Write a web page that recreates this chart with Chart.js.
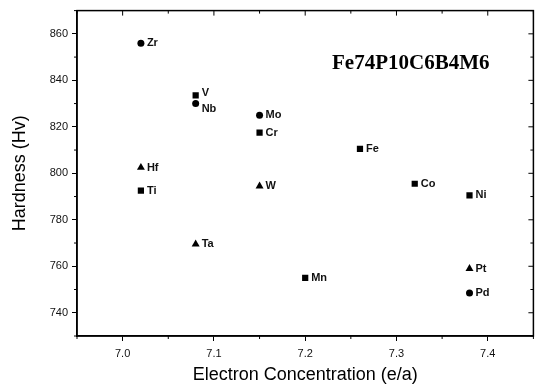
<!DOCTYPE html>
<html>
<head>
<meta charset="utf-8">
<script src="https://cdn.jsdelivr.net/npm/chart.js@4/dist/chart.umd.min.js"></script>
<style>
  html, body { margin: 0; padding: 0; background: #fff; }
  #wrap { width: 538px; height: 392px; }
</style>
</head>
<body>
<div id="wrap"><canvas id="hardChart" width="538" height="392"></canvas></div>
<script>
// ---- Données ----
const circleNames = ["Zr", "Nb", "Mo", "Pd"];
const circleX     = [7.02, 7.08, 7.15, 7.38];
const circleY     = [856, 830, 825, 748.5];

const squareNames = ["V", "Cr", "Ti", "Fe", "Co", "Ni", "Mn"];
const squareX     = [7.08, 7.15, 7.02, 7.26, 7.32, 7.38, 7.20];
const squareY     = [833.5, 817.5, 792.5, 810.5, 795.5, 790.5, 755];

const triangleNames = ["Hf", "W", "Ta", "Pt"];
const triangleX     = [7.02, 7.15, 7.08, 7.38];
const triangleY     = [802.5, 794.5, 769.5, 759];

const xTicks = [7.0, 7.1, 7.2, 7.3, 7.4];
const yTicks = [740, 760, 780, 800, 820, 840, 860];

const toPoints = (xs, ys) => xs.map((x, i) => ({ x: x, y: ys[i] }));
const SANS = "'Liberation Sans', Arial, sans-serif";

// ---- Étiquettes des éléments et cadre complet ----
const labelPlugin = {
    id: "elementLabels",
    afterDatasetsDraw(chart) {
        const ctx = chart.ctx;
        ctx.save();
        ctx.fillStyle = "#111";
        ctx.font = "bold 11px " + SANS;
        ctx.textBaseline = "middle";
        chart.data.datasets.forEach((ds, di) => {
            const meta = chart.getDatasetMeta(di);
            meta.data.forEach((pt, i) => {
                const name = ds.names[i];
                let dy = 0;
                if (name === "V") dy = -2;
                if (name === "Nb") dy = 5;
                ctx.fillText(name, pt.x + 6, pt.y + dy);
            });
        });
        ctx.restore();
    },
    afterDraw(chart) {
        const ctx = chart.ctx;
        const a = chart.chartArea;
        const xs = chart.scales.x, ys = chart.scales.y;
        ctx.save();
        ctx.strokeStyle = "#000";
        ctx.lineWidth = 1.5;
        ctx.strokeRect(a.left, a.top, a.right - a.left, a.bottom - a.top);
        ctx.lineWidth = 1;
        ctx.beginPath();
        // graduations du haut et de droite (vers l'intérieur)
        for (let v = 6.95; v <= 7.451; v += 0.05) {
            const px = xs.getPixelForValue(v);
            const major = Math.abs(v * 10 - Math.round(v * 10)) < 1e-6;
            const len = major ? 5 : 3;
            ctx.moveTo(px, a.top); ctx.lineTo(px, a.top + len);
            if (!major) { ctx.moveTo(px, a.bottom); ctx.lineTo(px, a.bottom + 3); }
        }
        for (let v = 730; v <= 870; v += 10) {
            const py = ys.getPixelForValue(v);
            const major = v % 20 === 0;
            const len = major ? 5 : 3;
            ctx.moveTo(a.right, py); ctx.lineTo(a.right - len, py);
            if (!major) { ctx.moveTo(a.left, py); ctx.lineTo(a.left - 3, py); }
        }
        ctx.stroke();
        // titre de l'alliage
        ctx.fillStyle = "#000";
        ctx.font = "bold 21px 'Liberation Serif', 'Times New Roman', serif";
        ctx.textBaseline = "middle";
        ctx.fillText("Fe74P10C6B4M6", 332, 64);
        ctx.restore();
    }
};

const common = {
    showLine: false,
    backgroundColor: "#000",
    borderColor: "#000",
    pointBorderWidth: 0
};

new Chart(document.getElementById("hardChart"), {
    type: "scatter",
    data: {
        datasets: [
            Object.assign({ label: "circle", names: circleNames, data: toPoints(circleX, circleY),
                pointStyle: "circle", pointRadius: 3.5 }, common),
            Object.assign({ label: "square", names: squareNames, data: toPoints(squareX, squareY),
                pointStyle: "rect", pointRadius: 4.4 }, common),
            Object.assign({ label: "triangle", names: triangleNames, data: toPoints(triangleX, triangleY),
                pointStyle: "triangle", pointRadius: 4.6 }, common)
        ]
    },
    options: {
        responsive: false,
        animation: false,
        layout: { padding: { left: 0, right: 3, top: 8, bottom: 0 } },
        plugins: {
            legend: { display: false },
            tooltip: { enabled: false }
        },
        scales: {
            x: {
                type: "linear",
                min: 6.95,
                max: 7.45,
                afterBuildTicks: s => { s.ticks = xTicks.map(v => ({ value: v })); },
                afterFit: s => { s.height = 56; },
                grid: { drawOnChartArea: false, drawTicks: true, tickLength: 5, color: "#000" },
                border: { display: true, color: "#000", width: 1.5 },
                ticks: {
                    color: "#111",
                    padding: 6,
                    font: { family: SANS, size: 11 },
                    callback: v => v.toFixed(1)
                },
                title: {
                    display: true,
                    text: "Electron Concentration (e/a)",
                    color: "#000",
                    padding: { top: 0, bottom: 6 },
                    font: { family: SANS, size: 18 }
                }
            },
            y: {
                type: "linear",
                min: 730,
                max: 870,
                afterBuildTicks: s => { s.ticks = yTicks.map(v => ({ value: v })); },
                afterFit: s => { s.width = 77; },
                grid: { drawOnChartArea: false, drawTicks: true, tickLength: 5, color: "#000" },
                border: { display: true, color: "#000", width: 1.5 },
                ticks: {
                    color: "#111",
                    padding: 4,
                    font: { family: SANS, size: 11 }
                },
                title: {
                    display: true,
                    text: "Hardness (Hv)",
                    color: "#000",
                    padding: { top: 9, bottom: 0 },
                    font: { family: SANS, size: 18 }
                }
            }
        }
    },
    plugins: [labelPlugin]
});
</script>
</body>
</html>
